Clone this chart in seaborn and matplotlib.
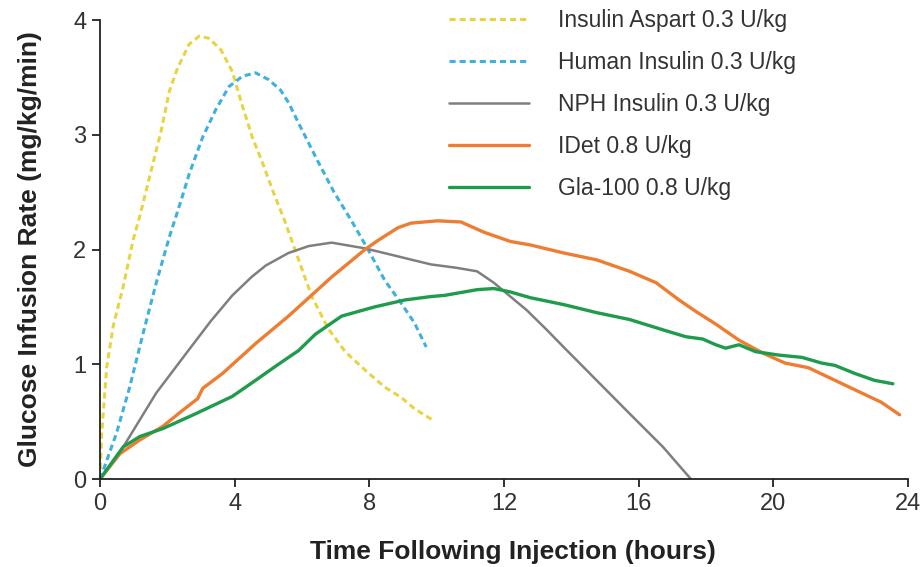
import matplotlib
matplotlib.use("Agg")
import matplotlib.pyplot as plt
import seaborn as sns
import pandas as pd

# ---- data ----
aspart_x = [0, 0.05, 0.2, 0.39, 0.69, 0.98, 1.18, 1.52, 1.82, 2.06, 2.3, 2.65, 2.95, 3.24, 3.59, 3.93, 4.23, 4.52, 4.82, 5.16, 5.46, 5.9, 6.29, 6.78, 7.28, 7.87, 8.46, 8.95, 9.35, 9.9]
aspart_y = [0, 0.40, 0.98, 1.33, 1.68, 2.08, 2.29, 2.69, 3.04, 3.38, 3.58, 3.79, 3.86, 3.84, 3.74, 3.55, 3.25, 2.98, 2.76, 2.49, 2.27, 1.91, 1.59, 1.31, 1.11, 0.95, 0.80, 0.71, 0.61, 0.51]

human_x = [0, 0.1, 0.49, 0.88, 1.28, 1.67, 2.06, 2.41, 2.65, 3.05, 3.44, 3.83, 4.23, 4.62, 5.01, 5.36, 5.6, 5.9, 6.45, 6.95, 7.45, 7.96, 8.46, 8.95, 9.34, 9.69]
human_y = [0, 0.08, 0.40, 0.80, 1.27, 1.71, 2.11, 2.43, 2.66, 2.98, 3.22, 3.42, 3.51, 3.54, 3.48, 3.39, 3.28, 3.10, 2.78, 2.50, 2.26, 2.00, 1.73, 1.53, 1.36, 1.15]

nph_x = [0, 0.69, 1.67, 2.65, 3.3, 3.93, 4.5, 4.92, 5.6, 6.2, 6.88, 7.87, 8.85, 9.83, 10.6, 11.2, 11.7, 12.19, 12.68, 13.27, 13.77, 14.75, 15.73, 16.72, 17.55]
nph_y = [0, 0.28, 0.75, 1.13, 1.38, 1.60, 1.76, 1.86, 1.97, 2.03, 2.06, 2.01, 1.94, 1.87, 1.84, 1.81, 1.71, 1.59, 1.47, 1.30, 1.15, 0.86, 0.57, 0.28, 0.0]

idet_x = [0, 0.59, 1.18, 1.87, 2.46, 2.9, 3.05, 3.64, 4.62, 5.6, 6.88, 7.87, 8.26, 8.85, 9.24, 10.03, 10.72, 11.41, 12.19, 12.78, 13.77, 14.75, 15.73, 16.52, 17.2, 17.7, 18.29, 18.98, 19.67, 20.35, 21.04, 21.83, 22.62, 23.2, 23.75]
idet_y = [0, 0.22, 0.34, 0.46, 0.60, 0.70, 0.79, 0.92, 1.18, 1.42, 1.76, 2.00, 2.08, 2.19, 2.23, 2.25, 2.24, 2.15, 2.07, 2.04, 1.97, 1.91, 1.81, 1.71, 1.56, 1.46, 1.35, 1.21, 1.10, 1.01, 0.97, 0.86, 0.75, 0.67, 0.56]

gla_x = [0, 0.69, 1.18, 1.87, 2.85, 3.93, 4.62, 5.3, 5.9, 6.39, 6.88, 7.18, 8.16, 9.05, 9.83, 10.23, 11.2, 11.7, 12.19, 12.78, 13.77, 14.75, 15.73, 16.72, 17.4, 17.9, 18.29, 18.58, 18.98, 19.47, 20.16, 20.85, 21.44, 21.83, 22.42, 23.0, 23.55]
gla_y = [0, 0.28, 0.37, 0.44, 0.57, 0.72, 0.86, 1.00, 1.12, 1.26, 1.36, 1.42, 1.50, 1.56, 1.59, 1.60, 1.65, 1.66, 1.63, 1.58, 1.52, 1.45, 1.39, 1.30, 1.24, 1.22, 1.17, 1.14, 1.17, 1.11, 1.08, 1.06, 1.01, 0.99, 0.92, 0.86, 0.83]

labels = ["Insulin Aspart 0.3 U/kg", "Human Insulin 0.3 U/kg", "NPH Insulin 0.3 U/kg", "IDet 0.8 U/kg", "Gla-100 0.8 U/kg"]
xticks = [0, 4, 8, 12, 16, 20, 24]
yticks = [0, 1, 2, 3, 4]

colors = ["#e8d443", "#3eb1dc", "#7f7f7f", "#ee7d31", "#1e9c4b"]
widths = [2.2, 2.2, 1.8, 2.4, 2.4]
dashed = [True, True, False, False, False]

sns.set_style("white")
plt.rcParams['font.family'] = ['Liberation Sans', 'DejaVu Sans']

fig = plt.figure(figsize=(9.22, 5.67), dpi=100)
ax = fig.add_axes([0.1085, 0.1552, 0.8763, 0.8095])

series = [(aspart_x, aspart_y), (human_x, human_y), (nph_x, nph_y), (idet_x, idet_y), (gla_x, gla_y)]
for (xs, ys), lab, c, w, d in zip(series, labels, colors, widths, dashed):
    df = pd.DataFrame({"x": xs, "y": ys})
    sns.lineplot(data=df, x="x", y="y", ax=ax, color=c, linewidth=w, label=lab, sort=False)
    l = ax.get_lines()[-1]
    if d:
        l.set_dashes((2.0, 1.3))
    l.set_solid_joinstyle("round")
    l.set_dash_joinstyle("round")

ax.set_xlim(0, 24)
ax.set_ylim(0, 4)
ax.set_xticks(xticks)
ax.set_yticks(yticks)
for s in ["top", "right"]:
    ax.spines[s].set_visible(False)
for s in ["left", "bottom"]:
    ax.spines[s].set_color("#222222")
    ax.spines[s].set_linewidth(1.3)
ax.tick_params(axis="both", direction="out", length=6, width=1.3, color="#222222",
               labelsize=17, labelcolor="#333333", left=True, bottom=True, pad=4)
ax.set_xlabel("Time Following Injection (hours)", fontsize=19, fontweight="bold", color="#222222")
ax.set_ylabel("Glucose Infusion Rate (mg/kg/min)", fontsize=19, fontweight="bold", color="#222222")
ax.xaxis.set_label_coords(0.511, -0.133)
ax.yaxis.set_label_coords(-0.072, 0.5)

leg = ax.legend(loc="upper left", bbox_to_anchor=(0.42, 1.045), frameon=False, fontsize=16.5,
                handlelength=3.5, handletextpad=1.27, labelspacing=0.83, borderaxespad=0)
for t in leg.get_texts():
    t.set_color("#333333")

fig.savefig("out.png", dpi=100)
